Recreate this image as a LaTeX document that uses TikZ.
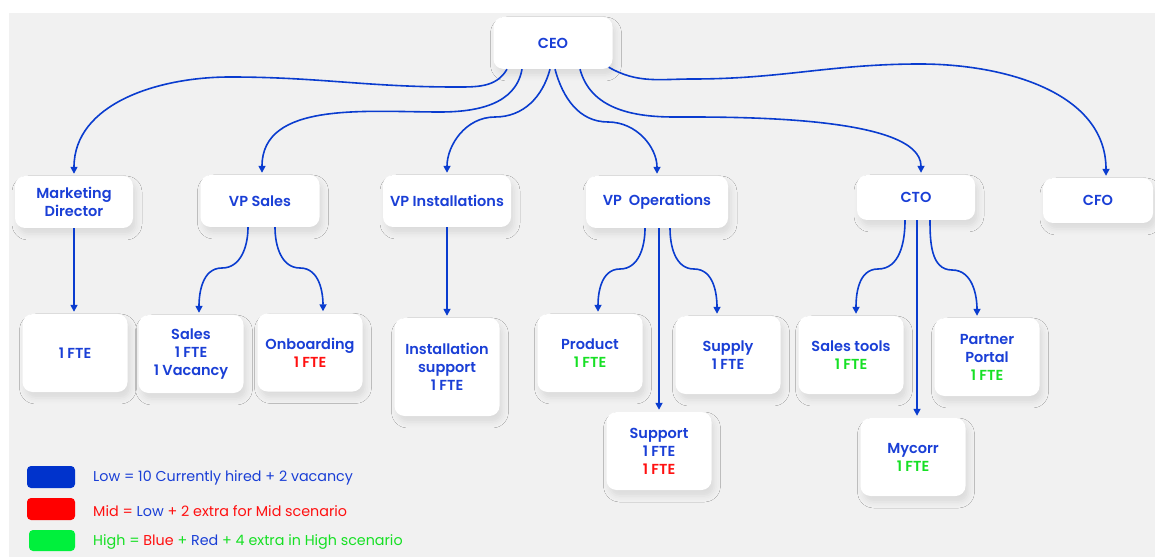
\documentclass[tikz,border=0pt]{standalone}
\usepackage{fontspec}
\setmainfont{Poppins}[BoldFont=* SemiBold]
\usetikzlibrary{arrows.meta,shadows.blur}
\definecolor{orgblue}{HTML}{1A3FD6}
\definecolor{lineblue}{HTML}{0A3CCF}
\definecolor{swblue}{HTML}{0033CC}
\definecolor{fred}{HTML}{FF1010}
\definecolor{fgreen}{HTML}{16E024}
\definecolor{swgreen}{HTML}{00F03C}
\definecolor{bggray}{HTML}{F1F1F1}
\begin{document}
\begin{tikzpicture}[x=1pt, y=1pt,
  box/.style={rounded corners=10pt, fill=white, inner sep=0pt, align=center, text=orgblue,
    font=\fontsize{14.5}{18}\selectfont\bfseries,
    blur shadow={shadow xshift=3pt, shadow yshift=-6pt, shadow blur radius=6pt, shadow opacity=9}},
  top/.style={box, minimum height=52pt},
  sub/.style={box, minimum width=105pt, minimum height=78pt},
  link/.style={lineblue, line width=1.6pt, shorten >=2pt, -{Triangle[length=7pt,width=7pt]}},
  swatch/.style={rounded corners=4pt, minimum width=48pt, minimum height=22pt, inner sep=0pt},
  legtext/.style={anchor=west, inner sep=0pt, font=\fontsize{14.3}{16}\selectfont}]
\useasboundingbox (0,0) rectangle (1155,557);
\fill[bggray] (9,0) rectangle (1155,544);
% top row
\node[top, minimum width=119pt] (ceo) at (553,514){CEO};
\node[top, minimum width=118pt] (mkt) at (74,355){Marketing\\Director};
\node[top, minimum width=119pt] (vpsales) at (260,356){VP Sales};
\node[top, minimum width=128pt] (vpinst) at (447,356){VP Installations};
\node[top, minimum width=142pt] (vpops) at (657,355){VP\ \ Operations};
\node[top, minimum width=118pt, minimum height=45pt] (cto) at (916,359.5){CTO};
\node[top, minimum width=110pt, minimum height=45pt] (cfo) at (1098,356.5){CFO};
% second row
\node[sub] (fte) at (75,204){1 FTE};
\node[sub] (sales) at (191,203){Sales\\1 FTE\\1 Vacancy};
\node[sub] (onb) at (310,204.5){Onboarding\\\textcolor{fred}{1 FTE}};
\node[sub, minimum height=98pt] (inst) at (447,190){Installation\\support\\1 FTE};
\node[sub] (prod) at (590,204){Product\\\textcolor{fgreen}{1 FTE}};
\node[sub] (supply) at (728,202){Supply\\1 FTE};
\node[sub] (supp) at (659,106){Support\\1 FTE\\\textcolor{fred}{1 FTE}};
\node[sub] (stools) at (851,202){Sales tools\\\textcolor{fgreen}{1 FTE}};
\node[sub] (partner) at (987,200){Partner\\Portal\\\textcolor{fgreen}{1 FTE}};
\node[sub] (mycorr) at (913,100){Mycorr\\\textcolor{fgreen}{1 FTE}};
% CEO links
\draw[link]([xshift=-46pt]ceo.south) to[out=-120,in=0] (455,470) to[out=180,in=0] (230,480) to[out=180,in=90] (mkt.north);
\draw[link]([xshift=-31pt]ceo.south) to[out=-100,in=0] (440,445) to[out=180,in=90] ([xshift=2pt]vpsales.north);
\draw[link]([xshift=-3pt]ceo.south) to[out=-105,in=0] (495,440) to[out=180,in=90] (vpinst.north);
\draw[link]([xshift=2pt]ceo.south) to[out=-75,in=180] (608,435) to[out=0,in=90] (vpops.north);
\draw[link]([xshift=27pt]ceo.south) to[out=-75,in=180] (674,440) to[out=0,in=90,looseness=0.6] ([xshift=5pt]cto.north);
\draw[link]([xshift=-4pt,yshift=2pt]ceo.south east) to[out=-30,in=180] (693,478) to[out=0,in=180] (920,493) to[out=0,in=90] ([xshift=8pt]cfo.north);
% lower links
\draw[link](mkt.south) -- (mkt.south |- fte.north);
\draw[link]([xshift=-12pt]vpsales.south) to[out=-90,in=0] (222,289) to[out=180,in=90] ([xshift=8pt]sales.north);
\draw[link]([xshift=15pt]vpsales.south) to[out=-90,in=180] (300,289) to[out=0,in=90] ([xshift=13pt]onb.north);
\draw[link](vpinst.south) -- (inst.north);
\draw[link]([xshift=-12pt]vpops.south) to[out=-90,in=0] (620,288) to[out=180,in=90] ([xshift=8pt]prod.north);
\draw[link](vpops.south -| supp.north) -- (supp.north);
\draw[link]([xshift=13pt]vpops.south) to[out=-90,in=180] (694,288) to[out=0,in=90] ([xshift=-11pt]supply.north);
\draw[link]([xshift=-11pt]cto.south) to[out=-90,in=0] (878,288) to[out=180,in=90] ([xshift=5pt]stools.north);
\draw[link]([xshift=1pt]cto.south) -- ([xshift=1pt]cto.south |- mycorr.north);
\draw[link]([xshift=14pt]cto.south) to[out=-90,in=180] (952,287) to[out=0,in=90] ([xshift=-10pt]partner.north);
% legend
\node[swatch, fill=swblue] (lowsw) at (51,80){};
\node[swatch, fill=red] (midsw) at (51,48){};
\node[swatch, fill=swgreen, minimum width=46pt, minimum height=21pt] (highsw) at (52,16.5){};
\node[legtext, text=orgblue] (lowtxt) at (93,79){Low = 10 Currently hired + 2 vacancy};
\node[legtext, text=fred] (midtxt) at (93,46){Mid = \textcolor{orgblue}{Low} + 2 extra for Mid scenario};
\node[legtext, text=fgreen] (hightxt) at (93,15){High = \textcolor{fred}{Blue} + \textcolor{orgblue}{Red} + 4 extra in High scenario};
\end{tikzpicture}
\end{document}
